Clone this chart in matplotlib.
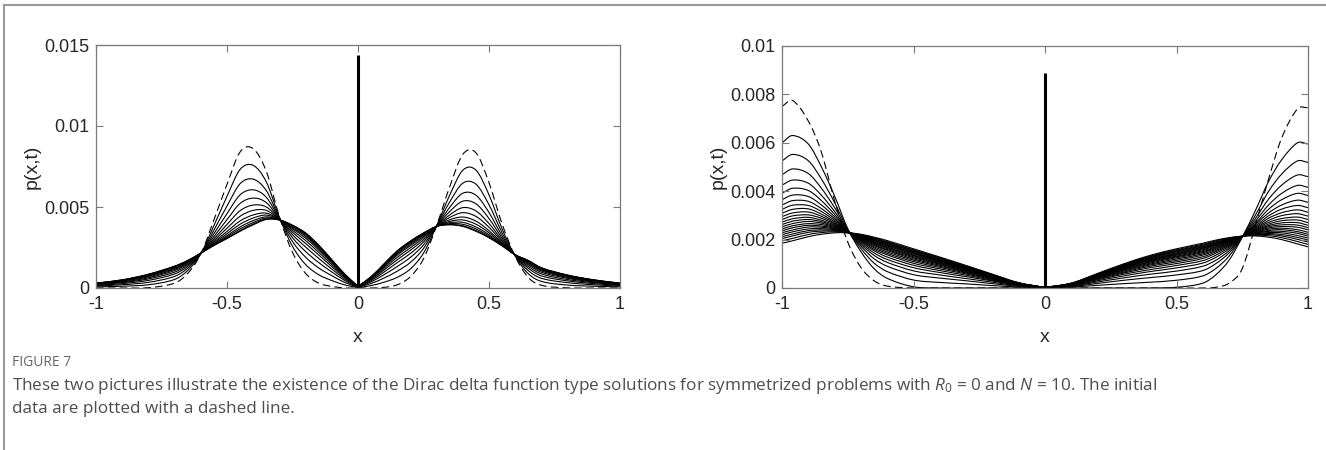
import numpy as np
import matplotlib
matplotlib.use("Agg")
import matplotlib.pyplot as plt
from matplotlib.path import Path
from matplotlib.patches import PathPatch
from matplotlib.lines import Line2D

plt.rcParams['lines.scale_dashes'] = False
plt.rcParams['mathtext.fontset'] = 'custom'
plt.rcParams['mathtext.rm'] = 'Open Sans'
plt.rcParams['mathtext.it'] = 'Open Sans:italic'

SCALE = 1e-3  # all curve values below are in units of 1e-3

# ---------------- left panel ----------------
x_left = [-1, -0.9, -0.8, -0.7, -0.65, -0.6, -0.55, -0.5, -0.45, -0.4, -0.35, -0.3, -0.25, -0.2,
          -0.15, -0.1, -0.05, 0, 0.05, 0.1, 0.15, 0.2, 0.25, 0.3, 0.35, 0.4, 0.45, 0.5, 0.55, 0.6,
          0.65, 0.7, 0.8, 0.9, 1.0]
left_initial = [0, 0, 0.02, 0.3, 0.9, 2.1, 4.2, 6.4, 8.4, 8.6, 7.2, 4.4, 2.2, 0.9, 0.3, 0.1, 0, 0,
                0, 0.04, 0.2, 0.7, 1.8, 3.85, 6.25, 8.25, 8.35, 6.5, 3.95, 1.95, 0.65, 0.17, 0.01, 0, 0]
left_solid = [
    [0.07, 0.11, 0.20, 0.53, 1.08, 2.11, 3.85, 5.66, 7.32, 7.57, 6.55, 4.36, 2.57, 1.45, 0.82, 0.46, 0.19, 0.02,
     0.15, 0.36, 0.66, 1.18, 2.15, 3.84, 5.73, 7.27, 7.28, 5.75, 3.65, 1.97, 0.88, 0.41, 0.18, 0.11, 0.07],
    [0.12, 0.20, 0.35, 0.72, 1.22, 2.12, 3.57, 5.06, 6.44, 6.72, 6.01, 4.32, 2.87, 1.90, 1.24, 0.76, 0.34, 0.04,
     0.28, 0.62, 1.04, 1.58, 2.44, 3.83, 5.31, 6.47, 6.41, 5.14, 3.41, 1.99, 1.07, 0.60, 0.33, 0.20, 0.12],
    [0.16, 0.27, 0.47, 0.87, 1.33, 2.13, 3.35, 4.59, 5.75, 6.06, 5.60, 4.29, 3.11, 2.25, 1.57, 0.99, 0.46, 0.05,
     0.38, 0.83, 1.33, 1.89, 2.66, 3.82, 4.98, 5.85, 5.73, 4.66, 3.22, 2.00, 1.22, 0.75, 0.44, 0.27, 0.16],
    [0.20, 0.33, 0.56, 0.98, 1.42, 2.13, 3.17, 4.22, 5.22, 5.55, 5.27, 4.27, 3.29, 2.53, 1.83, 1.17, 0.55, 0.07,
     0.46, 0.99, 1.57, 2.13, 2.84, 3.82, 4.72, 5.36, 5.20, 4.29, 3.07, 2.02, 1.33, 0.87, 0.52, 0.33, 0.20],
    [0.22, 0.37, 0.63, 1.08, 1.49, 2.14, 3.03, 3.92, 4.77, 5.12, 5.00, 4.25, 3.44, 2.75, 2.04, 1.32, 0.63, 0.07,
     0.52, 1.12, 1.75, 2.33, 2.98, 3.81, 4.51, 4.96, 4.76, 3.98, 2.95, 2.02, 1.43, 0.97, 0.60, 0.37, 0.22],
    [0.24, 0.41, 0.69, 1.15, 1.55, 2.14, 2.92, 3.69, 4.43, 4.79, 4.79, 4.24, 3.56, 2.93, 2.20, 1.44, 0.69, 0.08,
     0.57, 1.22, 1.90, 2.48, 3.10, 3.81, 4.35, 4.65, 4.42, 3.75, 2.86, 2.03, 1.50, 1.05, 0.65, 0.41, 0.24],
    [0.26, 0.44, 0.74, 1.21, 1.60, 2.14, 2.83, 3.49, 4.14, 4.51, 4.62, 4.23, 3.66, 3.08, 2.34, 1.54, 0.74, 0.09,
     0.61, 1.31, 2.03, 2.61, 3.19, 3.81, 4.21, 4.38, 4.13, 3.54, 2.78, 2.04, 1.56, 1.11, 0.70, 0.44, 0.26],
    [0.27, 0.46, 0.78, 1.26, 1.63, 2.15, 2.76, 3.35, 3.94, 4.32, 4.50, 4.22, 3.73, 3.18, 2.44, 1.60, 0.77, 0.09,
     0.64, 1.37, 2.11, 2.70, 3.26, 3.80, 4.11, 4.20, 3.94, 3.41, 2.72, 2.04, 1.61, 1.15, 0.73, 0.46, 0.27],
    [0.28, 0.47, 0.80, 1.29, 1.66, 2.15, 2.71, 3.23, 3.77, 4.16, 4.39, 4.21, 3.79, 3.26, 2.52, 1.66, 0.80, 0.09,
     0.66, 1.42, 2.18, 2.78, 3.31, 3.80, 4.03, 4.05, 3.77, 3.29, 2.67, 2.04, 1.64, 1.19, 0.76, 0.47, 0.28],
    [0.29, 0.49, 0.83, 1.32, 1.68, 2.15, 2.67, 3.15, 3.65, 4.04, 4.32, 4.21, 3.83, 3.33, 2.58, 1.70, 0.82, 0.10,
     0.68, 1.46, 2.24, 2.83, 3.35, 3.80, 3.97, 3.93, 3.65, 3.20, 2.64, 2.05, 1.67, 1.22, 0.78, 0.49, 0.29],
    [0.30, 0.50, 0.84, 1.34, 1.69, 2.15, 2.64, 3.08, 3.55, 3.95, 4.26, 4.20, 3.86, 3.38, 2.63, 1.73, 0.84, 0.10,
     0.69, 1.49, 2.28, 2.88, 3.38, 3.80, 3.92, 3.84, 3.55, 3.13, 2.61, 2.05, 1.69, 1.24, 0.79, 0.50, 0.30],
    [0.30, 0.50, 0.85, 1.35, 1.70, 2.15, 2.62, 3.05, 3.50, 3.90, 4.23, 4.20, 3.88, 3.40, 2.65, 1.75, 0.85, 0.10,
     0.70, 1.50, 2.30, 2.90, 3.40, 3.80, 3.90, 3.80, 3.50, 3.10, 2.60, 2.05, 1.70, 1.25, 0.80, 0.50, 0.30],
]
left_spike = 14.4

# ---------------- right panel ----------------
x_right = [-1, -0.96, -0.9, -0.85, -0.8, -0.75, -0.7, -0.65, -0.6, -0.5, -0.4, -0.3, -0.2, -0.1, 0,
           0.1, 0.2, 0.3, 0.4, 0.5, 0.6, 0.65, 0.7, 0.75, 0.8, 0.85, 0.9, 0.96, 1.0]
right_initial = [7.5, 7.75, 6.9, 5.6, 3.6, 1.9, 0.85, 0.3, 0.08, 0, 0, 0, 0, 0, 0,
                 0, 0, 0, 0, 0, 0, 0.03, 0.2, 0.8, 2.6, 4.5, 6.2, 7.4, 7.45]
right_solid = [
    [6.0, 6.3, 5.95, 5.0, 3.8, 2.45, 1.5, 0.8, 0.4, 0.05, 0, 0, 0, 0, 0, 0, 0, 0, 0, 0.03, 0.2, 0.55, 1.15, 2.1, 3.2, 4.4, 5.3, 6.0, 5.95],
    [5.25, 5.52, 5.26, 4.50, 3.53, 2.42, 1.63, 1.03, 0.68, 0.33, 0.23, 0.17, 0.10, 0.04, 0.00, 0.04, 0.11, 0.18, 0.24, 0.32, 0.50, 0.81, 1.32, 2.11, 3.01, 3.99, 4.71, 5.25, 5.19],
    [4.68, 4.92, 4.73, 4.12, 3.32, 2.40, 1.73, 1.21, 0.90, 0.55, 0.41, 0.30, 0.18, 0.07, 0.01, 0.06, 0.19, 0.32, 0.43, 0.54, 0.72, 1.01, 1.45, 2.11, 2.87, 3.67, 4.25, 4.67, 4.60],
    [4.25, 4.46, 4.33, 3.83, 3.16, 2.38, 1.80, 1.35, 1.06, 0.71, 0.54, 0.39, 0.24, 0.09, 0.01, 0.08, 0.25, 0.42, 0.57, 0.70, 0.90, 1.15, 1.54, 2.12, 2.76, 3.43, 3.91, 4.24, 4.16],
    [3.92, 4.12, 4.03, 3.61, 3.04, 2.37, 1.86, 1.45, 1.18, 0.84, 0.64, 0.47, 0.29, 0.11, 0.01, 0.10, 0.30, 0.50, 0.68, 0.83, 1.03, 1.27, 1.62, 2.12, 2.67, 3.25, 3.65, 3.91, 3.82],
    [3.65, 3.84, 3.78, 3.43, 2.94, 2.35, 1.91, 1.54, 1.28, 0.94, 0.72, 0.53, 0.32, 0.12, 0.01, 0.11, 0.34, 0.57, 0.76, 0.93, 1.13, 1.36, 1.68, 2.12, 2.61, 3.10, 3.43, 3.63, 3.54],
    [3.43, 3.61, 3.58, 3.28, 2.86, 2.35, 1.95, 1.60, 1.37, 1.02, 0.79, 0.58, 0.35, 0.14, 0.01, 0.12, 0.37, 0.62, 0.84, 1.01, 1.22, 1.44, 1.73, 2.13, 2.55, 2.98, 3.26, 3.41, 3.32],
    [3.25, 3.42, 3.41, 3.16, 2.79, 2.34, 1.98, 1.66, 1.43, 1.09, 0.85, 0.62, 0.38, 0.15, 0.01, 0.13, 0.40, 0.66, 0.90, 1.08, 1.29, 1.50, 1.77, 2.13, 2.50, 2.88, 3.11, 3.23, 3.13],
    [3.09, 3.25, 3.27, 3.05, 2.73, 2.33, 2.00, 1.71, 1.49, 1.15, 0.90, 0.65, 0.40, 0.15, 0.01, 0.14, 0.42, 0.70, 0.95, 1.14, 1.36, 1.55, 1.80, 2.13, 2.46, 2.79, 2.99, 3.07, 2.97],
    [2.95, 3.10, 3.14, 2.96, 2.68, 2.33, 2.03, 1.76, 1.55, 1.20, 0.94, 0.68, 0.42, 0.16, 0.01, 0.15, 0.44, 0.74, 0.99, 1.20, 1.41, 1.60, 1.83, 2.13, 2.43, 2.71, 2.87, 2.93, 2.83],
    [2.83, 2.98, 3.02, 2.88, 2.64, 2.32, 2.05, 1.79, 1.59, 1.25, 0.98, 0.71, 0.44, 0.17, 0.02, 0.15, 0.46, 0.76, 1.03, 1.25, 1.46, 1.64, 1.86, 2.13, 2.40, 2.64, 2.78, 2.81, 2.70],
    [2.72, 2.86, 2.92, 2.80, 2.60, 2.32, 2.07, 1.83, 1.63, 1.29, 1.01, 0.73, 0.45, 0.17, 0.02, 0.16, 0.47, 0.79, 1.07, 1.29, 1.50, 1.68, 1.89, 2.13, 2.37, 2.58, 2.69, 2.70, 2.59],
    [2.62, 2.76, 2.83, 2.74, 2.56, 2.31, 2.09, 1.86, 1.67, 1.33, 1.04, 0.76, 0.46, 0.18, 0.02, 0.16, 0.49, 0.81, 1.10, 1.32, 1.54, 1.71, 1.91, 2.13, 2.35, 2.53, 2.61, 2.60, 2.49],
    [2.53, 2.66, 2.75, 2.68, 2.53, 2.31, 2.10, 1.89, 1.70, 1.36, 1.07, 0.78, 0.48, 0.18, 0.02, 0.17, 0.50, 0.84, 1.13, 1.36, 1.58, 1.75, 1.93, 2.13, 2.32, 2.48, 2.54, 2.51, 2.40],
    [2.44, 2.57, 2.66, 2.62, 2.50, 2.30, 2.12, 1.92, 1.74, 1.40, 1.10, 0.80, 0.49, 0.19, 0.02, 0.17, 0.51, 0.86, 1.16, 1.39, 1.62, 1.78, 1.95, 2.13, 2.30, 2.43, 2.47, 2.41, 2.30],
    [2.36, 2.49, 2.59, 2.56, 2.47, 2.30, 2.13, 1.94, 1.77, 1.43, 1.12, 0.82, 0.50, 0.19, 0.02, 0.18, 0.53, 0.88, 1.18, 1.42, 1.65, 1.80, 1.97, 2.14, 2.28, 2.38, 2.41, 2.33, 2.22],
    [2.28, 2.40, 2.52, 2.51, 2.44, 2.30, 2.15, 1.97, 1.80, 1.46, 1.15, 0.83, 0.51, 0.20, 0.02, 0.18, 0.54, 0.90, 1.21, 1.45, 1.68, 1.83, 1.98, 2.14, 2.26, 2.34, 2.34, 2.26, 2.14],
    [2.20, 2.32, 2.44, 2.45, 2.41, 2.29, 2.16, 1.99, 1.83, 1.49, 1.17, 0.85, 0.52, 0.20, 0.02, 0.18, 0.55, 0.92, 1.24, 1.49, 1.71, 1.86, 2.00, 2.14, 2.24, 2.29, 2.28, 2.17, 2.06],
    [2.12, 2.23, 2.37, 2.40, 2.38, 2.29, 2.17, 2.02, 1.86, 1.52, 1.20, 0.87, 0.53, 0.21, 0.02, 0.19, 0.56, 0.94, 1.26, 1.52, 1.74, 1.89, 2.02, 2.14, 2.22, 2.25, 2.21, 2.09, 1.98],
    [2.04, 2.15, 2.30, 2.35, 2.35, 2.29, 2.19, 2.04, 1.89, 1.55, 1.22, 0.89, 0.54, 0.21, 0.02, 0.19, 0.57, 0.95, 1.29, 1.55, 1.77, 1.91, 2.04, 2.14, 2.20, 2.21, 2.15, 2.01, 1.90],
    [1.95, 2.05, 2.21, 2.29, 2.32, 2.28, 2.20, 2.07, 1.92, 1.58, 1.25, 0.91, 0.56, 0.21, 0.02, 0.20, 0.59, 0.98, 1.32, 1.58, 1.81, 1.95, 2.06, 2.14, 2.18, 2.16, 2.08, 1.92, 1.80],
    [1.85, 1.95, 2.12, 2.22, 2.28, 2.28, 2.22, 2.10, 1.96, 1.62, 1.28, 0.93, 0.57, 0.22, 0.02, 0.20, 0.60, 1.00, 1.35, 1.62, 1.85, 1.98, 2.08, 2.14, 2.15, 2.10, 2.00, 1.82, 1.70],
]
right_spike = 8.9

x_ticks = [-1, -0.5, 0, 0.5, 1]
x_ticklabels = ["-1", "-0.5", "0", "0.5", "1"]
left_yticks = [0, 0.005, 0.01, 0.015]
left_yticklabels = ["0", "0.005", "0.01", "0.015"]
right_yticks = [0, 0.002, 0.004, 0.006, 0.008, 0.01]
right_yticklabels = ["0", "0.002", "0.004", "0.006", "0.008", "0.01"]

caption_title = "FIGURE 7"
caption_line1 = ("These two pictures illustrate the existence of the Dirac delta function type solutions "
                 "for symmetrized problems with $R_0$ = 0 and $N$ = 10. The initial")
caption_line2 = "data are plotted with a dashed line."


def smooth_path(xs, ys):
    """Smooth cubic (Hermite -> Bezier) path through the given points."""
    xs = np.asarray(xs, float)
    ys = np.asarray(ys, float)
    n = len(xs)
    m = np.zeros(n)
    m[0] = (ys[1] - ys[0]) / (xs[1] - xs[0])
    m[-1] = (ys[-1] - ys[-2]) / (xs[-1] - xs[-2])
    for i in range(1, n - 1):
        m[i] = (ys[i + 1] - ys[i - 1]) / (xs[i + 1] - xs[i - 1])
    verts = [(xs[0], ys[0])]
    codes = [Path.MOVETO]
    for i in range(n - 1):
        h = xs[i + 1] - xs[i]
        verts += [(xs[i] + h / 3, ys[i] + m[i] * h / 3),
                  (xs[i + 1] - h / 3, ys[i + 1] - m[i + 1] * h / 3),
                  (xs[i + 1], ys[i + 1])]
        codes += [Path.CURVE4] * 3
    return Path(verts, codes)


def draw_curve(ax, xs, vals, **kw):
    xs = np.asarray(xs, float)
    ys = np.asarray(vals, float) * SCALE
    i0 = int(np.argmin(np.abs(xs)))
    for sl in (slice(0, i0 + 1), slice(i0, len(xs))):
        p = PathPatch(smooth_path(xs[sl], ys[sl]), fill=False, **kw)
        ax.add_patch(p)


fig = plt.figure(figsize=(13.26, 4.5), dpi=100)
W, H = 1326, 450

spine_col = '#7a7a7a'
text_col = '#262626'
font = 'Liberation Sans'


def setup(ax, yticks, yticklabels, ymax):
    ax.set_xlim(-1, 1)
    ax.set_ylim(0, ymax)
    ax.set_xticks(x_ticks)
    ax.set_xticklabels(x_ticklabels, fontfamily=font, fontsize=13, color=text_col)
    ax.set_yticks(yticks)
    ax.set_yticklabels(yticklabels, fontfamily=font, fontsize=13, color=text_col)
    ax.tick_params(direction='in', top=True, right=True, length=5, width=0.8,
                   color=spine_col)
    ax.tick_params(axis='x', pad=6)
    ax.tick_params(axis='y', pad=4.5)
    for s in ax.spines.values():
        s.set_color(spine_col)
        s.set_linewidth(0.9)
    ax.set_xlabel('x', fontfamily=font, fontsize=14, color=text_col, labelpad=11)
    ax.set_ylabel('p(x,t)', fontfamily=font, fontsize=14, color=text_col, labelpad=3)


axL = fig.add_axes([96 / W, 1 - 288 / H, 524 / W, 243 / H])
axR = fig.add_axes([782 / W, 1 - 288 / H, 526 / W, 242 / H])

for ax, xs, init, solid, spike, yt, ytl, ymax in (
        (axL, x_left, left_initial, left_solid, left_spike, left_yticks, left_yticklabels, 0.015),
        (axR, x_right, right_initial, right_solid, right_spike, right_yticks, right_yticklabels, 0.01)):
    setup(ax, yt, ytl, ymax)
    for row in solid:
        draw_curve(ax, xs, row, edgecolor='black', linewidth=0.8)
    draw_curve(ax, xs, init, edgecolor='black', linewidth=0.8, linestyle=(0, (5.5, 3.0)))
    ax.plot([0, 0], [0, spike * SCALE], color='black', linewidth=2.2, solid_capstyle='butt')

# frame lines of the figure box
fig.add_artist(Line2D([4 / W, 1], [1 - 5 / H, 1 - 5 / H], transform=fig.transFigure,
                      color='#9a9a9a', linewidth=1.5))
fig.add_artist(Line2D([4 / W, 4 / W], [0, 1 - 5 / H], transform=fig.transFigure,
                      color='#9a9a9a', linewidth=1.5))

fig.text(12 / W, 1 - 363 / H, caption_title, fontfamily='Open Sans', fontsize=10,
         color='#666666', va='center', ha='left')
fig.text(12 / W, 1 - 386 / H, caption_line1, fontfamily='Open Sans', fontsize=12.3,
         color='#4d4d4d', va='center', ha='left')
fig.text(12 / W, 1 - 409 / H, caption_line2, fontfamily='Open Sans', fontsize=12.3,
         color='#4d4d4d', va='center', ha='left')

fig.savefig('out.png', dpi=100)
